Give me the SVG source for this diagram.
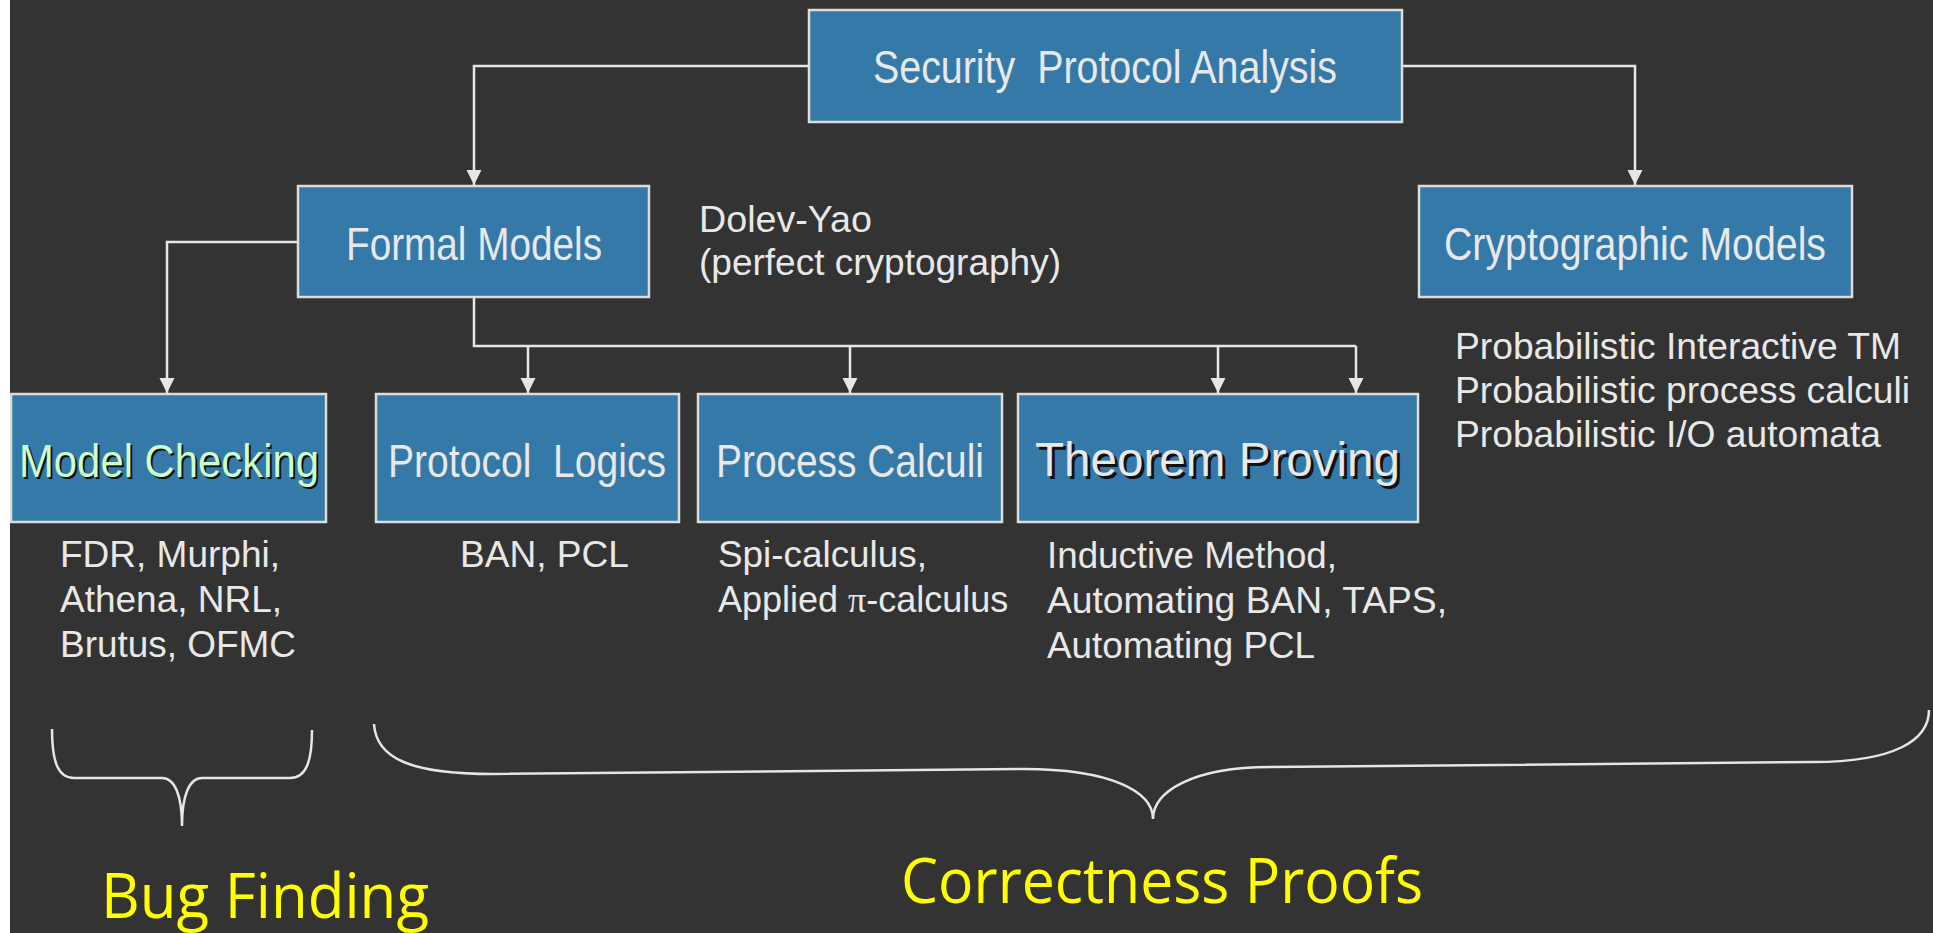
<svg xmlns="http://www.w3.org/2000/svg" width="1933" height="933" viewBox="0 0 1933 933">
  <style>
    .box { fill: #3579a8; stroke: #dcdcdc; stroke-width: 2.5; }
    .title { font-family: "Liberation Sans", Arial, sans-serif; font-size: 46px; fill: #e8e8e8; }
    .desc { font-family: "Liberation Sans", Arial, sans-serif; font-size: 36px; fill: #e8e8e8; }
    .wire { fill: none; stroke: #e6e6e6; stroke-width: 2.5; }
    .brace { fill: none; stroke: #e6e6e6; stroke-width: 2.5; }
    .label { font-family: "Open Sans", "Liberation Sans", sans-serif; font-size: 62px; fill: #ffff00; }
  </style>
  <defs>
    <marker id="arrow" markerUnits="userSpaceOnUse" markerWidth="16" markerHeight="16" viewBox="0 0 16 16" refX="15" refY="8" orient="auto">
      <path d="M0,0.5 L15,8 L0,15.5 Z" fill="#e6e6e6"/>
    </marker>
  </defs>

  <!-- background -->
  <rect x="0" y="0" width="1933" height="933" fill="#ffffff"/>
  <rect x="10" y="0" width="1923" height="933" fill="#333333"/>

  <!-- connectors -->
  <g id="connectors">
    <path class="wire" d="M809,66 H474 V185" marker-end="url(#arrow)"/>
    <path class="wire" d="M1402,66 H1635 V185" marker-end="url(#arrow)"/>
    <path class="wire" d="M298,242 H167 V393" marker-end="url(#arrow)"/>
    <path class="wire" d="M474,298 V346 H1356"/>
    <path class="wire" d="M528,346 V393" marker-end="url(#arrow)"/>
    <path class="wire" d="M850,346 V393" marker-end="url(#arrow)"/>
    <path class="wire" d="M1218,346 V393" marker-end="url(#arrow)"/>
    <path class="wire" d="M1356,346 V393" marker-end="url(#arrow)"/>
  </g>

  <!-- nodes -->
  <g id="security-protocol-analysis">
    <rect class="box" x="809" y="10" width="593" height="112"/>
    <text class="title" x="873" y="83" textLength="464" lengthAdjust="spacingAndGlyphs" xml:space="preserve">Security  Protocol Analysis</text>
  </g>

  <g id="formal-models">
    <rect class="box" x="298" y="186" width="351" height="111"/>
    <text class="title" x="346" y="260" textLength="256" lengthAdjust="spacingAndGlyphs">Formal Models</text>
  </g>

  <g id="dolev-yao">
    <text class="desc" x="699" y="232" textLength="173" lengthAdjust="spacingAndGlyphs">Dolev-Yao</text>
    <text class="desc" x="699" y="275" textLength="362" lengthAdjust="spacingAndGlyphs">(perfect cryptography)</text>
  </g>

  <g id="cryptographic-models">
    <rect class="box" x="1419" y="186" width="433" height="111"/>
    <text class="title" x="1444" y="260" textLength="382" lengthAdjust="spacingAndGlyphs">Cryptographic Models</text>
    <text class="desc" x="1455" y="359" textLength="446" lengthAdjust="spacingAndGlyphs">Probabilistic Interactive TM</text>
    <text class="desc" x="1455" y="403" textLength="455" lengthAdjust="spacingAndGlyphs">Probabilistic process calculi</text>
    <text class="desc" x="1455" y="447" textLength="426" lengthAdjust="spacingAndGlyphs">Probabilistic I/O automata</text>
  </g>

  <g id="model-checking">
    <rect class="box" x="11" y="394" width="315" height="128"/>
    <text class="title" x="21" y="479" textLength="300" lengthAdjust="spacingAndGlyphs" fill="#000000" style="fill:#111111">Model Checking</text>
    <text class="title" x="19" y="477" textLength="300" lengthAdjust="spacingAndGlyphs" style="fill:#ccffcc">Model Checking</text>
    <text class="desc" x="60" y="567" textLength="220" lengthAdjust="spacingAndGlyphs">FDR, Murphi,</text>
    <text class="desc" x="60" y="612" textLength="222" lengthAdjust="spacingAndGlyphs">Athena, NRL,</text>
    <text class="desc" x="60" y="657" textLength="236" lengthAdjust="spacingAndGlyphs">Brutus, OFMC</text>
  </g>

  <g id="protocol-logics">
    <rect class="box" x="376" y="394" width="303" height="128"/>
    <text class="title" x="388" y="477" textLength="278" lengthAdjust="spacingAndGlyphs" xml:space="preserve">Protocol  Logics</text>
    <text class="desc" x="460" y="567" textLength="169" lengthAdjust="spacingAndGlyphs">BAN, PCL</text>
  </g>

  <g id="process-calculi">
    <rect class="box" x="698" y="394" width="304" height="128"/>
    <text class="title" x="716" y="477" textLength="268" lengthAdjust="spacingAndGlyphs">Process Calculi</text>
    <text class="desc" x="718" y="567" textLength="209" lengthAdjust="spacingAndGlyphs">Spi-calculus,</text>
    <text class="desc" x="718" y="612">Applied <tspan font-family="'Liberation Serif', serif">π</tspan>-calculus</text>
  </g>

  <g id="theorem-proving">
    <rect class="box" x="1018" y="394" width="400" height="128"/>
    <text x="1038" y="479" font-family="'Liberation Sans', Arial, sans-serif" font-size="48" fill="#111111" textLength="365" lengthAdjust="spacingAndGlyphs">Theorem Proving</text>
    <text x="1035" y="476" font-family="'Liberation Sans', Arial, sans-serif" font-size="48" fill="#e8e8e8" textLength="365" lengthAdjust="spacingAndGlyphs">Theorem Proving</text>
    <text class="desc" x="1047" y="568" textLength="290" lengthAdjust="spacingAndGlyphs">Inductive Method,</text>
    <text class="desc" x="1047" y="613" textLength="400" lengthAdjust="spacingAndGlyphs">Automating BAN, TAPS,</text>
    <text class="desc" x="1047" y="658" textLength="268" lengthAdjust="spacingAndGlyphs">Automating PCL</text>
  </g>

  <!-- braces and group labels -->
  <g id="bug-finding">
    <path class="brace" d="M52,729 C52,762 58,778 74,778 L162,778 C175,778 182,796 182,826 C182,796 189,778 202,778 L290,778 C306,778 312,762 312,730"/>
    <text class="label" x="101" y="918" textLength="328" lengthAdjust="spacingAndGlyphs">Bug Finding</text>
  </g>

  <g id="correctness-proofs">
    <path class="brace" d="M374,724 C376,758 410,774 493,774 L1023,769 C1112,769 1153,792 1153,819 C1153,792 1192,767 1270,767 L1813,762 C1895,762 1929,740 1929,710"/>
    <text class="label" x="901" y="903" textLength="522" lengthAdjust="spacingAndGlyphs">Correctness Proofs</text>
  </g>
</svg>
